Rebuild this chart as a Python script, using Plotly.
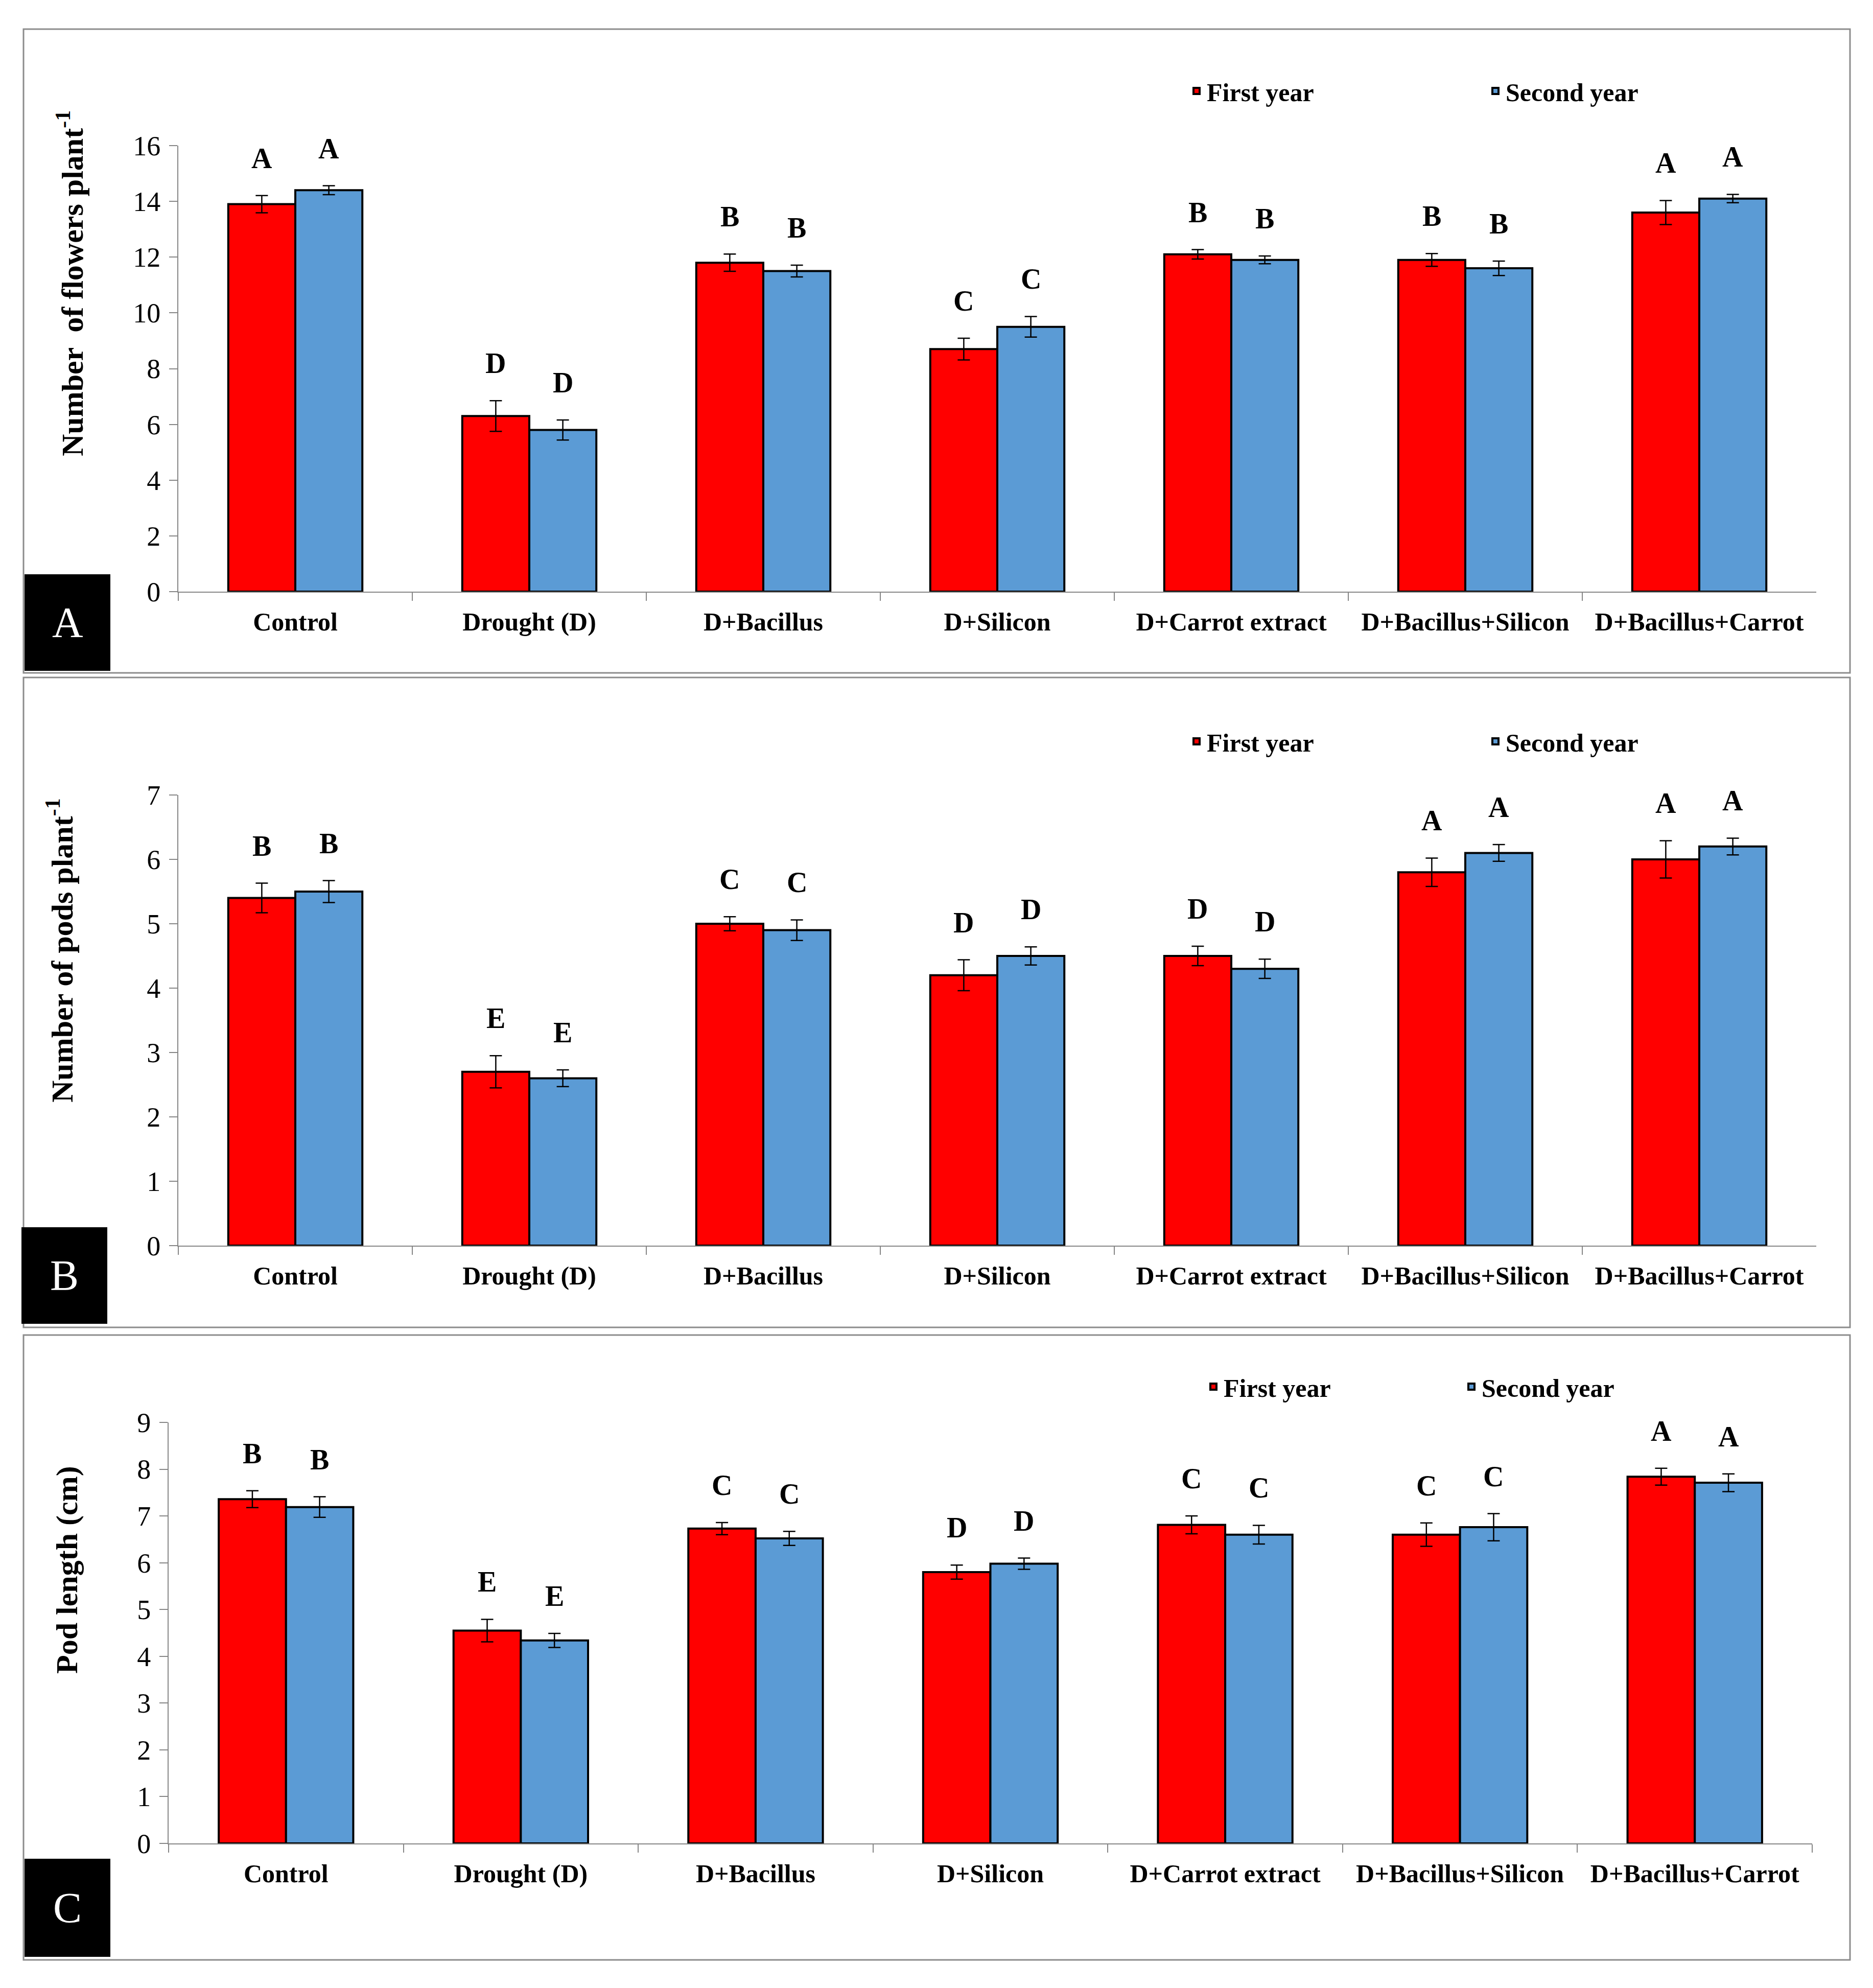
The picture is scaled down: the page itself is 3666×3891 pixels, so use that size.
import plotly.graph_objects as go

W, H = 3666, 3891
PAGE_OFFSET = 8  # body margin of the html page

categories = ["Control", "Drought (D)", "D+Bacillus", "D+Silicon",
              "D+Carrot extract", "D+Bacillus+Silicon", "D+Bacillus+Carrot"]
series_names = ["First year", "Second year"]

# A: number of flowers per plant
flowers_y1 = [13.9, 6.3, 11.8, 8.7, 12.1, 11.9, 13.6]
flowers_y2 = [14.4, 5.8, 11.5, 9.5, 11.9, 11.6, 14.1]
flowers_err1 = [0.31, 0.55, 0.31, 0.39, 0.17, 0.23, 0.43]
flowers_err2 = [0.16, 0.36, 0.21, 0.37, 0.14, 0.26, 0.15]
flowers_let1 = ["A", "D", "B", "C", "B", "B", "A"]
flowers_let2 = ["A", "D", "B", "C", "B", "B", "A"]

# B: number of pods per plant
pods_y1 = [5.4, 2.7, 5.0, 4.2, 4.5, 5.8, 6.0]
pods_y2 = [5.5, 2.6, 4.9, 4.5, 4.3, 6.1, 6.2]
pods_err1 = [0.23, 0.25, 0.11, 0.24, 0.15, 0.22, 0.29]
pods_err2 = [0.17, 0.13, 0.16, 0.14, 0.15, 0.13, 0.13]
pods_let1 = ["B", "E", "C", "D", "D", "A", "A"]
pods_let2 = ["B", "E", "C", "D", "D", "A", "A"]

# C: pod length (cm)
length_y1 = [7.36, 4.55, 6.73, 5.8, 6.81, 6.6, 7.84]
length_y2 = [7.19, 4.34, 6.52, 5.98, 6.6, 6.76, 7.71]
length_err1 = [0.18, 0.24, 0.13, 0.15, 0.19, 0.25, 0.18]
length_err2 = [0.22, 0.15, 0.15, 0.12, 0.2, 0.29, 0.19]
length_let1 = ["B", "E", "C", "D", "C", "C", "A"]
length_let2 = ["B", "E", "C", "D", "C", "C", "A"]

RED = "#FF0000"
BLUE = "#5B9BD5"
GREY = "#868686"
FONT = "Liberation Serif"
BARGAP = 0.427


def px(v):
    return (v - PAGE_OFFSET) / W


def py(v):
    return 1 - (v - PAGE_OFFSET) / H


panels = [
    dict(tag="A", y1=flowers_y1, y2=flowers_y2, e1=flowers_err1, e2=flowers_err2,
         l1=flowers_let1, l2=flowers_let2, ymax=16, dtick=2,
         title="Number  of flowers plant<sup>-1</sup>", title_xy=(137, 555),
         xpx=(349, 3555), ypx=(285, 1158), frame=(57, 1317), box=(48, 216, 1124, 1313),
         leg_x=2322, leg_y=178, leg_w=540),
    dict(tag="B", y1=pods_y1, y2=pods_y2, e1=pods_err1, e2=pods_err2,
         l1=pods_let1, l2=pods_let2, ymax=7, dtick=1,
         title="Number of pods plant<sup>-1</sup>", title_xy=(118, 1860),
         xpx=(349, 3555), ypx=(1556, 2438), frame=(1326, 2598), box=(42, 210, 2402, 2591),
         leg_x=2322, leg_y=1451, leg_w=540),
    dict(tag="C", y1=length_y1, y2=length_y2, e1=length_err1, e2=length_err2,
         l1=length_let1, l2=length_let2, ymax=9, dtick=1,
         title="Pod length (cm)", title_xy=(131, 3073),
         xpx=(330, 3547), ypx=(2784, 3608), frame=(2613, 3836), box=(48, 216, 3638, 3830),
         leg_x=2355, leg_y=2714, leg_w=460),
]

fig = go.Figure()
annotations = []
shapes = []
layout = {}

for i, p in enumerate(panels):
    n = "" if i == 0 else str(i + 1)
    xa, ya, lg = "x" + n, "y" + n, "legend" + n
    series = [(p["y1"], p["e1"], p["l1"], RED), (p["y2"], p["e2"], p["l2"], BLUE)]
    cat_px = (p["xpx"][1] - p["xpx"][0]) / len(categories)
    bar_px = cat_px * (1 - BARGAP) / 2
    for k, (vals, errs, lets, col) in enumerate(series):
        fig.add_trace(go.Bar(
            x=categories, y=vals, name=series_names[k],
            marker=dict(color=col, line=dict(color="black", width=4)),
            error_y=dict(type="data", array=errs, color="black", thickness=2.5, width=12),
            xaxis=xa, yaxis=ya, legend=lg,
        ))
        shift = (k - 0.5) * bar_px
        for c, v, e, t in zip(categories, vals, errs, lets):
            annotations.append(dict(
                x=c, y=v + e, xref=xa, yref=ya, text=t, showarrow=False,
                xshift=shift, yshift=40, yanchor="bottom",
                font=dict(family=FONT, size=56, color="black", weight="bold"),
            ))

    layout["xaxis" + n] = dict(
        domain=[px(p["xpx"][0]), px(p["xpx"][1])], anchor=ya, type="category",
        showline=True, linecolor=GREY, linewidth=2, showgrid=False, automargin=False,
        ticks="outside", tickson="boundaries", ticklen=16, tickwidth=2, tickcolor=GREY,
        tickfont=dict(family=FONT, size=50, color="black", weight="bold"),
        ticklabelstandoff=14,
    )
    layout["yaxis" + n] = dict(
        domain=[py(p["ypx"][1]), py(p["ypx"][0])], anchor=xa, range=[0, p["ymax"]],
        dtick=p["dtick"], showline=True, linecolor=GREY, linewidth=2, showgrid=False,
        zeroline=False, ticks="outside", ticklen=16, tickwidth=2, tickcolor=GREY,
        tickfont=dict(family=FONT, size=54, color="black"), ticklabelstandoff=6,
        automargin=False,
    )
    layout[lg] = dict(
        orientation="h", x=px(p["leg_x"]), y=py(p["leg_y"]), xanchor="left", yanchor="middle",
        entrywidth=p["leg_w"], entrywidthmode="pixels", bgcolor="rgba(0,0,0,0)",
        font=dict(family=FONT, size=50, color="black", weight="bold"),
    )

    # y axis title
    tx, ty = p["title_xy"]
    annotations.append(dict(
        x=px(tx), y=py(ty), xref="paper", yref="paper", text=p["title"],
        textangle=-90, showarrow=False, xanchor="center", yanchor="middle",
        font=dict(family=FONT, size=60, color="black", weight="bold"),
    ))

    # panel frame
    shapes.append(dict(type="rect", xref="paper", yref="paper",
                       x0=px(46), x1=px(3621), y0=py(p["frame"][1]), y1=py(p["frame"][0]),
                       line=dict(color="#8c8c8c", width=3), fillcolor="rgba(0,0,0,0)"))
    # panel tag box
    bx0, bx1, by0, by1 = p["box"]
    shapes.append(dict(type="rect", xref="paper", yref="paper",
                       x0=px(bx0), x1=px(bx1), y0=py(by1), y1=py(by0),
                       line=dict(width=0), fillcolor="black"))
    annotations.append(dict(
        x=px((bx0 + bx1) / 2), y=py((by0 + by1) / 2), xref="paper", yref="paper",
        text=p["tag"], showarrow=False, xanchor="center", yanchor="middle",
        font=dict(family=FONT, size=84, color="white"),
    ))

fig.update_layout(
    width=W, height=H, margin=dict(l=0, r=0, t=0, b=0, autoexpand=False),
    paper_bgcolor="white", plot_bgcolor="white",
    barmode="group", bargap=BARGAP, bargroupgap=0,
    annotations=annotations, shapes=shapes,
    **layout,
)

fig.write_html("out.html")
